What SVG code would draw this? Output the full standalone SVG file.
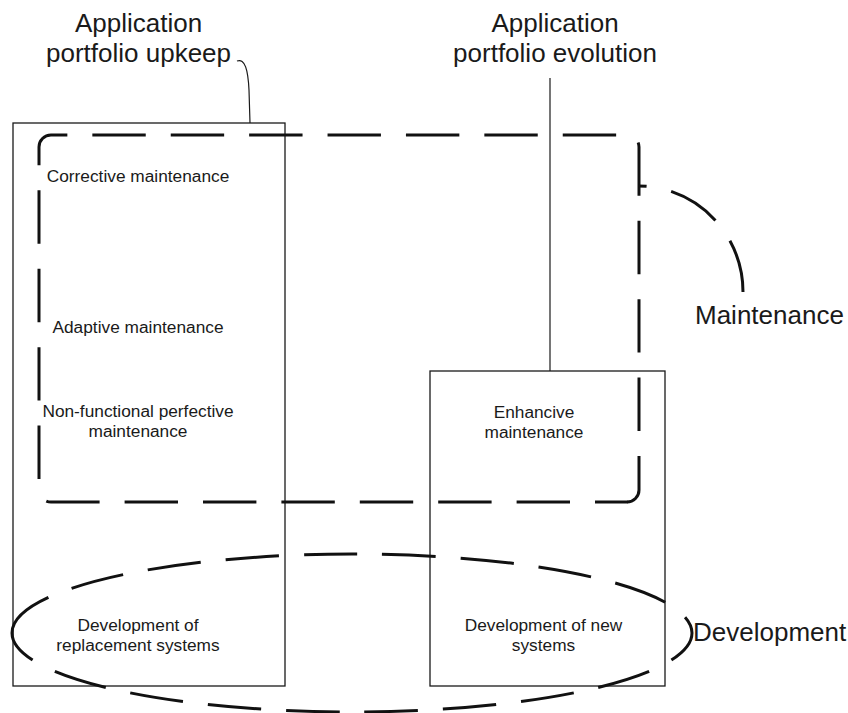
<svg xmlns="http://www.w3.org/2000/svg" width="848" height="713" viewBox="0 0 848 713">
<style>
.bg{fill:#ffffff}
.box{fill:none;stroke:#1a1a1a;stroke-width:1.3}
.dash{fill:none;stroke:#111111;stroke-width:3;stroke-dasharray:53.4 25}
.solid{fill:none;stroke:#111111;stroke-width:3}
.thin{fill:none;stroke:#1a1a1a;stroke-width:1.2}
.big{font-family:"Liberation Sans",Arial,sans-serif;font-size:26px;fill:#1a1a1a}
.small{font-family:"Liberation Sans",Arial,sans-serif;font-size:17.3px;fill:#1a1a1a}
.mid{text-anchor:middle}
</style>
<rect class="bg" x="0" y="0" width="848" height="713"/>
<g id="upkeep">
<rect class="box" x="13" y="123" width="272" height="563"/>
<text class="big mid" x="138.5" y="32">Application</text>
<text class="big mid" x="138.5" y="62">portfolio upkeep</text>
</g>
<g id="evolution">
<rect class="box" x="430" y="371" width="235" height="315"/>
<text class="big mid" x="555" y="32">Application</text>
<text class="big mid" x="555" y="62">portfolio evolution</text>
</g>
<g id="maintenance">
<path class="dash" stroke-dashoffset="53.4" d="M595,502 H51 A12,12 0 0 1 39,490 V147 A12,12 0 0 1 51,135 H627 A12,12 0 0 1 639,147 V490 A12,12 0 0 1 627,502"/>
<path class="solid" d="M627.5,502 H595"/>
<text class="big" x="695" y="324">Maintenance</text>
</g>
<g id="development">
<path class="dash" d="M12,633 A340,79 0 0 1 692,633 A340,79 0 0 1 12,633"/>
<text class="big" x="693" y="641">Development</text>
</g>
<g id="corrective"><text class="small mid" x="138" y="182">Corrective maintenance</text></g>
<g id="adaptive"><text class="small mid" x="138" y="333">Adaptive maintenance</text></g>
<g id="perfective">
<text class="small mid" x="138" y="417">Non-functional perfective</text>
<text class="small mid" x="138" y="437">maintenance</text>
</g>
<g id="enhancive">
<text class="small mid" x="534" y="418">Enhancive</text>
<text class="small mid" x="534" y="438">maintenance</text>
</g>
<g id="replacement">
<text class="small mid" x="138" y="631">Development of</text>
<text class="small mid" x="138" y="651">replacement systems</text>
</g>
<g id="newsystems">
<text class="small mid" x="543.5" y="631">Development of new</text>
<text class="small mid" x="543.5" y="651">systems</text>
</g>
<g id="connectors">
<path class="thin" d="M237,61 C245,58 248,70 249,90 L250,123"/>
<line class="thin" x1="550" y1="78" x2="550" y2="371"/>
<path class="dash" d="M743,292 A105,106 0 0 0 638,186"/>
</g>
</svg>
